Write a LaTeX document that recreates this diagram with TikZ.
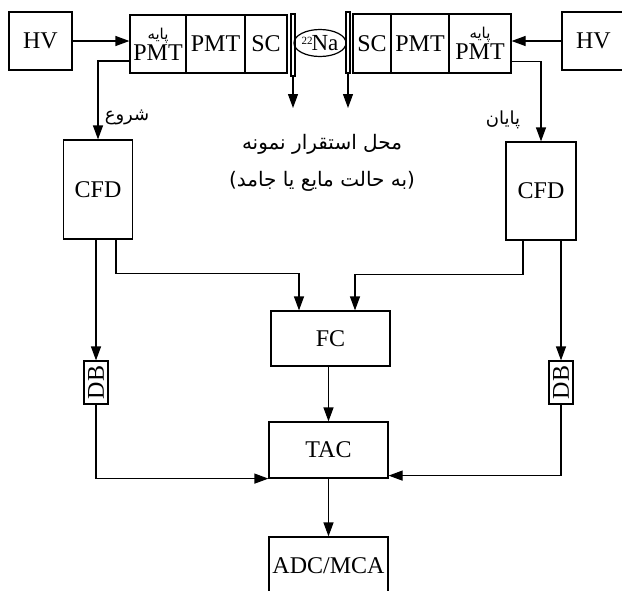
\documentclass[tikz,border=0pt]{standalone}
\usepackage{fontspec}
\setmainfont{Liberation Serif}
\newfontfamily\farsi[Script=Arabic]{DejaVu Sans}
\TeXXeTstate=1
\usetikzlibrary{arrows.meta,shapes.geometric}
\tikzset{
  >={Triangle[length=14pt,width=10pt]},
  box/.style={draw, rectangle, line width=1.2pt, inner sep=0pt, font=\fontsize{24}{26}\selectfont},
  plate/.style={draw, rectangle, line width=1.2pt, inner sep=0pt, minimum width=4pt},
  conn/.style={->, line width=1.2pt},
  fa/.style={font=\farsi\fontsize{18}{36}\selectfont}
}
\newcommand{\pmtbase}{{\farsi\fontsize{15}{15}\selectfont\beginR پایه\endR}\\[-5pt]PMT}
\begin{document}
\begin{tikzpicture}[x=1pt, y=-1pt]
\useasboundingbox (0,0) rectangle (622,590);
% high voltage
\node[box, minimum width=63pt, minimum height=58pt] (hvL) at (40.5,41) {HV};
\node[box, minimum width=63pt, minimum height=58pt] (hvR) at (593.5,41) {HV};
% left detector
\node[box, minimum width=56pt, minimum height=58pt, align=center] (baseL) at (158,44) {\pmtbase};
\node[box, minimum width=59pt, minimum height=58pt] (pmtL) at (215.5,44) {PMT};
\node[box, minimum width=42pt, minimum height=58pt] (scL) at (266,44) {SC};
\node[plate, minimum height=62pt] (plateL) at (293,45) {};
% source
\node[draw, ellipse, line width=1.2pt, inner sep=0pt, minimum width=47pt, minimum height=27pt,
  font=\fontsize{23}{25}\selectfont] (na) at (320,43) {\raisebox{6pt}{\fontsize{11}{11}\selectfont 22}\hspace{-1pt}Na};
% right detector
\node[plate, minimum height=61pt] (plateR) at (348,42.5) {};
\node[box, minimum width=38pt, minimum height=59pt] (scR) at (372,43.5) {SC};
\node[box, minimum width=58pt, minimum height=59pt] (pmtR) at (420,43.5) {PMT};
\node[box, minimum width=62pt, minimum height=59pt, align=center] (baseR) at (480,43.5) {\pmtbase};
% sample
\coordinate (dropL) at (293,108);
\coordinate (dropR) at (348,108);
\node[fa, font=\farsi\fontsize{20}{37}\selectfont, align=center] (sample) at (322,163) {\beginR محل استقرار نمونه\endR\\\beginR(به حالت مایع یا جامد)\endR};
% electronics
\node[box, minimum width=69pt, minimum height=99pt] (cfdL) at (98,189.5) {CFD};
\node[box, minimum width=70pt, minimum height=98pt] (cfdR) at (541,191) {CFD};
\node[box, minimum width=119pt, minimum height=55pt] (fc) at (330.5,338.5) {FC};
\node[box, rotate=90, minimum width=43pt, minimum height=24pt] (dbL) at (96,382.5) {DB};
\node[box, rotate=90, minimum width=43pt, minimum height=24pt] (dbR) at (561,382.5) {DB};
\node[box, minimum width=119pt, minimum height=56pt] (tac) at (328.5,450) {TAC};
\node[box, minimum width=119pt, minimum height=58pt] (adc) at (328.5,566) {ADC/MCA};
% labels
\node[fa] (start) at (127,117) {\beginR شروع\endR};
\node[fa] (stop) at (503,120) {\beginR پایان\endR};
% connections
\draw[conn] (hvL.east) -- (hvL.east -| baseL.west);
\draw[conn] (hvR.west) -- (hvR.west -| baseR.east);
\draw[conn] ([yshift=-17pt]baseL.west) -| (cfdL.north);
\draw[conn] ([yshift=-18pt]baseR.east) -| (cfdR.north);
\draw[conn] (plateL.south) -- (dropL);
\draw[conn] (plateR.south) -- (dropR);
\draw[conn] (dbL |- cfdL.south) -- (dbL.east);
\draw[conn] (dbR |- cfdR.south) -- (dbR.east);
\draw[conn] ([xshift=18pt]cfdL.south) -- ++(0,34) -| ([xshift=-31.5pt]fc.north);
\draw[conn] ([xshift=-18pt]cfdR.south) -- ++(0,34) -| ([xshift=24.5pt]fc.north);
\draw[conn] (tac |- fc.south) -- (tac);
\draw[conn] (dbL.west) |- (tac.south west);
\draw[conn] (dbR.west) |- ([yshift=3pt]tac.south east);
\draw[conn] (tac) -- (adc);
\end{tikzpicture}
\end{document}
